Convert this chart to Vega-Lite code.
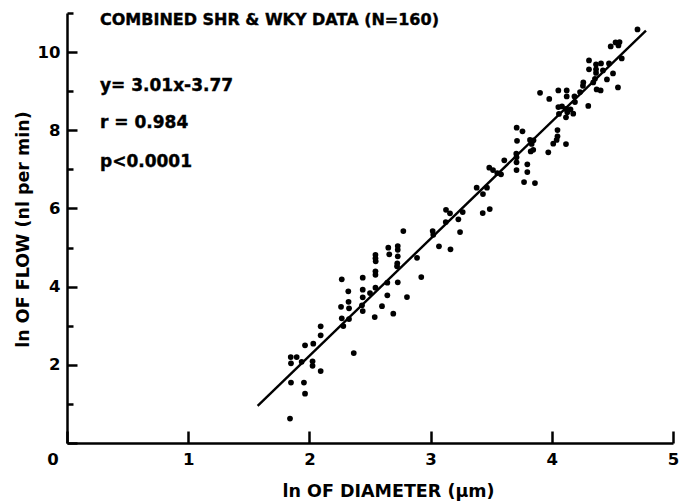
{
  "$schema": "https://vega.github.io/schema/vega-lite/v6.json",
  "width": 606,
  "height": 430,
  "autosize": "none",
  "padding": {"left": 67, "top": 13, "right": 14, "bottom": 58},
  "background": "white",
  "config": {
    "view": {"stroke": null},
    "axis": {
      "grid": false,
      "domainColor": "black",
      "domainWidth": 2.5,
      "tickColor": "black",
      "tickWidth": 2.5,
      "labelColor": "black",
      "labelFont": "DejaVu Sans",
      "labelFontWeight": "bold",
      "labelFontSize": 16.5,
      "titleColor": "black",
      "titleFont": "DejaVu Sans",
      "titleFontWeight": "bold",
      "titleFontSize": 17.5,
      "labelFlush": false,
      "labelOverlap": false
    }
  },
  "encoding": {
    "x": {
      "field": "d",
      "type": "quantitative",
      "scale": {"domain": [0, 5], "nice": false, "zero": false},
      "axis": {
        "title": "ln OF DIAMETER (μm)",
        "values": [0, 1, 2, 3, 4, 5],
        "format": "d",
        "tickSize": -12,
        "labelPadding": 20,
        "labelOffset": {"condition": {"test": "datum.value == 0", "value": -14.5}, "value": 0},
        "titleX": 321,
        "titleY": 53,
        "titleBaseline": "alphabetic",
        "titleAlign": "center"
      }
    },
    "y": {
      "field": "f",
      "type": "quantitative",
      "scale": {"domain": [0, 11], "nice": false, "zero": false},
      "axis": {
        "title": "ln OF FLOW  (nl per min)",
        "values": [0, 1, 2, 3, 4, 5, 6, 7, 8, 9, 10, 11],
        "labelExpr": "(datum.value % 2 == 0 && datum.value > 0) ? datum.label : ''",
        "tickSize": {"condition": {"test": "datum.value % 2 == 0", "value": -10}, "value": -6},
        "labelPadding": 17,
        "titleX": -39,
        "titleY": 216,
        "titleAngle": -90,
        "titleBaseline": "alphabetic",
        "titleAlign": "center"
      }
    }
  },
  "layer": [
    {
      "data": {"values": [
        {"d":1.840,"f":0.624},{"d":1.848,"f":1.545},{"d":1.955,"f":1.545},{"d":1.964,"f":1.263},{"d":1.846,"f":2.199},{"d":1.895,"f":2.199},{"d":1.848,"f":2.038},{"d":1.936,"f":2.077},{"d":2.026,"f":2.090},{"d":2.026,"f":1.974},{"d":2.093,"f":1.841},{"d":1.964,"f":2.499},{"d":2.032,"f":2.542},{"d":2.093,"f":2.985},{"d":2.093,"f":2.754},
        {"d":2.267,"f":4.187},{"d":2.321,"f":3.880},{"d":2.323,"f":3.611},{"d":2.327,"f":3.445},{"d":2.261,"f":3.483},{"d":2.267,"f":3.189},{"d":2.327,"f":3.171},{"d":2.280,"f":2.992},{"d":2.366,"f":2.302},{"d":2.440,"f":4.230},{"d":2.440,"f":3.923},{"d":2.440,"f":3.726},{"d":2.500,"f":3.836},{"d":2.434,"f":3.522},{"d":2.440,"f":3.376},
        {"d":2.545,"f":4.813},{"d":2.545,"f":4.724},{"d":2.547,"f":4.647},{"d":2.545,"f":4.391},{"d":2.545,"f":4.302},{"d":2.545,"f":3.974},{"d":2.539,"f":3.223},{"d":2.599,"f":3.501},{"d":2.643,"f":4.102},{"d":2.643,"f":3.777},{"d":2.651,"f":4.997},{"d":2.659,"f":4.826},{"d":2.729,"f":5.038},{"d":2.729,"f":4.941},{"d":2.729,"f":4.775},{"d":2.723,"f":4.519},{"d":2.725,"f":4.596},{"d":2.729,"f":4.110},{"d":2.692,"f":3.309},{"d":2.775,"f":5.422},{"d":2.805,"f":3.734},{"d":2.888,"f":4.737},{"d":2.923,"f":4.246},
        {"d":3.017,"f":5.422},{"d":3.022,"f":5.325},{"d":3.069,"f":5.031},{"d":3.164,"f":4.954},{"d":3.125,"f":5.652},{"d":3.127,"f":5.964},{"d":3.160,"f":5.875},{"d":3.229,"f":5.721},{"d":3.265,"f":5.908},{"d":3.243,"f":5.396},{"d":3.380,"f":6.532},{"d":3.432,"f":6.368},{"d":3.465,"f":6.532},{"d":3.430,"f":5.882},{"d":3.488,"f":5.985},{"d":3.484,"f":7.043},{"d":3.515,"f":6.982},{"d":3.550,"f":6.905},{"d":3.581,"f":6.872},{"d":3.608,"f":7.230},
        {"d":3.707,"f":7.402},{"d":3.709,"f":7.307},{"d":3.709,"f":7.179},{"d":3.709,"f":6.982},{"d":3.798,"f":7.128},{"d":3.798,"f":6.931},{"d":3.771,"f":6.675},{"d":3.713,"f":7.729},{"d":3.903,"f":8.957},{"d":3.979,"f":8.803},{"d":4.054,"f":9.020},{"d":4.123,"f":9.020},{"d":4.123,"f":8.867},{"d":4.187,"f":8.867},{"d":4.054,"f":8.593},{"d":4.084,"f":8.611},{"d":4.117,"f":8.547},{"d":4.128,"f":8.458},{"d":4.154,"f":8.535},{"d":4.117,"f":8.330},{"d":4.177,"f":8.425},{"d":4.059,"f":8.419},{"d":4.301,"f":8.624},
        {"d":3.710,"f":8.066},{"d":3.758,"f":7.972},{"d":3.820,"f":7.754},{"d":3.849,"f":7.742},{"d":3.834,"f":7.652},{"d":3.826,"f":7.460},{"d":3.847,"f":7.499},{"d":3.861,"f":6.650},{"d":3.971,"f":7.435},{"d":4.047,"f":8.005},{"d":4.047,"f":7.844},{"d":4.040,"f":7.754},{"d":4.012,"f":7.657},{"d":4.117,"f":7.647},
        {"d":4.707,"f":10.581},{"d":4.486,"f":10.146},{"d":4.526,"f":10.248},{"d":4.559,"f":10.256},{"d":4.550,"f":10.171},{"d":4.577,"f":9.839},{"d":4.307,"f":9.788},{"d":4.365,"f":9.685},{"d":4.406,"f":9.711},{"d":4.472,"f":9.711},{"d":4.307,"f":9.558},{"d":4.365,"f":9.558},{"d":4.365,"f":9.468},{"d":4.422,"f":9.532},{"d":4.505,"f":9.455},{"d":4.455,"f":9.302},{"d":4.356,"f":9.315},{"d":4.342,"f":9.225},{"d":4.260,"f":9.225},{"d":4.257,"f":9.136},{"d":4.233,"f":8.977},{"d":4.403,"f":9.020},{"d":4.370,"f":9.046},{"d":4.546,"f":9.097},{"d":4.191,"f":8.721}
      ]},
      "mark": {"type": "circle", "color": "black", "opacity": 1, "size": 33}
    },
    {
      "data": {"values": [{"d": 1.573, "f": 0.95}, {"d": 4.777, "f": 10.55}]},
      "mark": {"type": "line", "color": "black", "strokeWidth": 2.4}
    },
    {
      "data": {"values": [{"d": 0.272, "f": 10.683, "t": "COMBINED SHR & WKY DATA (N=160)"}]},
      "mark": {"type": "text", "align": "left", "baseline": "alphabetic", "font": "DejaVu Sans", "fontWeight": "bold", "fontSize": 16, "color": "black", "stroke": "black", "strokeWidth": 0.4},
      "encoding": {"text": {"field": "t"}}
    },
    {
      "data": {"values": [
        {"d": 0.272, "f": 9.0, "t": "y= 3.01x-3.77"},
        {"d": 0.272, "f": 8.066, "t": "r = 0.984"},
        {"d": 0.272, "f": 7.059, "t": "p<0.0001"}
      ]},
      "mark": {"type": "text", "align": "left", "baseline": "alphabetic", "font": "DejaVu Sans", "fontWeight": "bold", "fontSize": 17, "color": "black", "stroke": "black", "strokeWidth": 0.4},
      "encoding": {"text": {"field": "t"}}
    }
  ]
}
